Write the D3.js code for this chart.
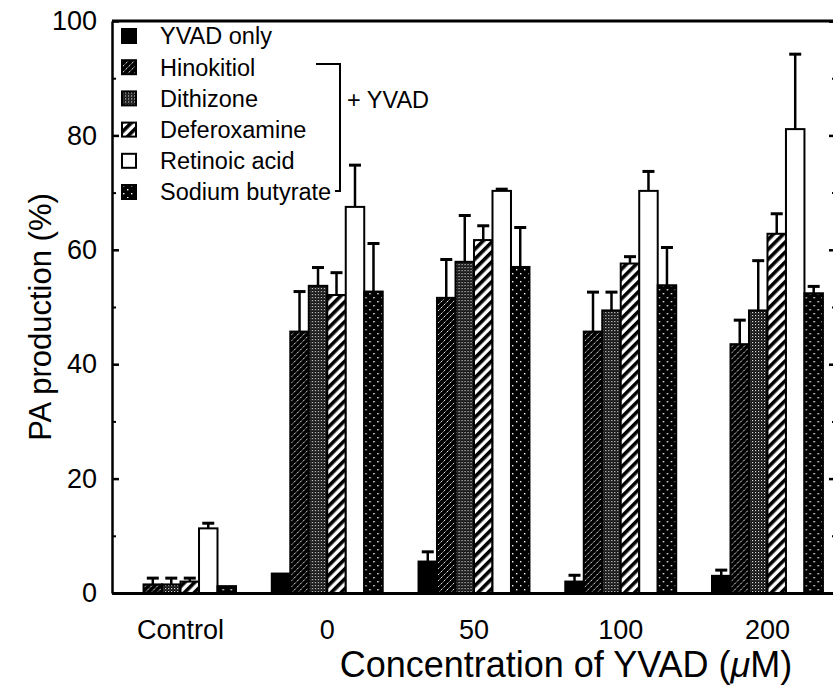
<!DOCTYPE html>
<html>
<head>
<meta charset="utf-8">
<script src="https://cdn.jsdelivr.net/npm/d3@7"></script>
<style>
  body { margin: 0; background: #fff; }
  text { font-family: "Liberation Sans", Arial, sans-serif; fill: #000; }
</style>
</head>
<body>
<svg width="833" height="686"></svg>
<script>
// groups on the x axis
const groups = ["Control", "0", "50", "100", "200"];
const seriesNames = ["YVAD only", "Hinokitiol", "Dithizone", "Deferoxamine", "Retinoic acid", "Sodium butyrate"];

// mean values (%) per group
const yvadOnly     = [0, 3.4, 5.5, 2.0, 3.0];
const hinokitiol   = [1.5, 45.7, 51.6, 45.7, 43.5];
const dithizone    = [1.5, 53.7, 57.9, 49.4, 49.4];
const deferoxamine = [2.0, 52.1, 61.7, 57.6, 62.8];
const retinoic     = [11.3, 67.5, 70.3, 70.3, 81.1];
const butyrate     = [1.2, 52.7, 57.0, 53.8, 52.4];

// upper error bars
const yvadOnlyErr     = [0, 0, 1.7, 1.1, 1.0];
const hinokitiolErr   = [1.1, 7.0, 6.7, 6.9, 4.2];
const dithizoneErr    = [1.1, 3.2, 8.1, 3.2, 8.7];
const deferoxamineErr = [0.6, 3.9, 2.5, 1.2, 3.5];
const retinoicErr     = [0.9, 7.3, 0.3, 3.4, 13.1];
const butyrateErr     = [0, 8.4, 6.9, 6.6, 1.2];

const yTicks = [0, 20, 40, 60, 80, 100];
const yMinor = [10, 30, 50, 70, 90];

const means = [yvadOnly, hinokitiol, dithizone, deferoxamine, retinoic, butyrate];
const errs = [yvadOnlyErr, hinokitiolErr, dithizoneErr, deferoxamineErr, retinoicErr, butyrateErr];
const fills = ["#000", "url(#hino)", "url(#dith)", "url(#defe)", "#fff", "url(#buty)"];

const svg = d3.select("svg");
const plotLeft = 112, plotRight = 836, plotTop = 21, plotBottom = 593;

const x = d3.scaleBand().domain(groups).range([plotLeft, plotRight]).paddingInner(0.244).paddingOuter(0.089);
const xs = d3.scaleBand().domain(d3.range(seriesNames.length)).range([0, x.bandwidth()]);
const y = d3.scaleLinear().domain([0, 100]).range([plotBottom, plotTop]);

// fill patterns
const defs = svg.append("defs");

const hino = defs.append("pattern").attr("id", "hino").attr("patternUnits", "userSpaceOnUse")
  .attr("width", 6).attr("height", 6);
hino.append("rect").attr("width", 6).attr("height", 6).attr("fill", "#000");
hino.append("path").attr("d", "M0.5,5.5 L2.5,3.5 M3.5,2.5 L5.5,0.5").attr("stroke", "#fff").attr("stroke-width", 0.9);

const dith = defs.append("pattern").attr("id", "dith").attr("patternUnits", "userSpaceOnUse")
  .attr("width", 3).attr("height", 3);
dith.append("rect").attr("width", 3).attr("height", 3).attr("fill", "#0a0a0a");
dith.append("rect").attr("width", 1.2).attr("height", 1.2).attr("fill", "#ddd");
dith.append("rect").attr("x", 1.5).attr("y", 1.5).attr("width", 1).attr("height", 1).attr("fill", "#777");

const defe = defs.append("pattern").attr("id", "defe").attr("patternUnits", "userSpaceOnUse")
  .attr("width", 7).attr("height", 7).attr("patternTransform", "rotate(45)");
defe.append("rect").attr("width", 7).attr("height", 7).attr("fill", "#fff");
defe.append("rect").attr("width", 3.6).attr("height", 7).attr("fill", "#000");

const buty = defs.append("pattern").attr("id", "buty").attr("patternUnits", "userSpaceOnUse")
  .attr("width", 8).attr("height", 8);
buty.append("rect").attr("width", 8).attr("height", 8).attr("fill", "#000");
buty.append("rect").attr("x", 1).attr("y", 1).attr("width", 1.4).attr("height", 1.4).attr("fill", "#fff");
buty.append("rect").attr("x", 5).attr("y", 5).attr("width", 1.4).attr("height", 1.4).attr("fill", "#fff");

// bars
const cells = [];
means.forEach((vals, s) => vals.forEach((v, g) => cells.push({ s: s, g: groups[g], v: v, e: errs[s][g] })));

const bar = svg.selectAll(".bar")
  .data(cells.filter(d => d.v > 0))
  .enter().append("g")
  .attr("class", "bar")
  .attr("transform", d => `translate(${x(d.g) + xs(d.s)},0)`);

bar.append("line")
  .filter(d => d.e > 0)
  .attr("x1", xs.bandwidth() / 2).attr("x2", xs.bandwidth() / 2)
  .attr("y1", d => y(d.v)).attr("y2", d => y(d.v + d.e))
  .attr("stroke", "#000").attr("stroke-width", 2.5);

bar.append("line")
  .filter(d => d.e > 0)
  .attr("x1", xs.bandwidth() / 2 - 6).attr("x2", xs.bandwidth() / 2 + 6)
  .attr("y1", d => y(d.v + d.e)).attr("y2", d => y(d.v + d.e))
  .attr("stroke", "#000").attr("stroke-width", 3);

bar.append("rect")
  .attr("x", 0)
  .attr("y", d => y(d.v))
  .attr("width", xs.bandwidth())
  .attr("height", d => y(0) - y(d.v))
  .attr("fill", d => fills[d.s])
  .attr("stroke", "#000").attr("stroke-width", 2);

// axes
svg.append("g")
  .attr("transform", `translate(${plotLeft},0)`)
  .call(d3.axisLeft(y).tickValues(yTicks).tickSizeInner(-7).tickSizeOuter(0).tickPadding(15))
  .call(g => g.select(".domain").attr("stroke-width", 2.5))
  .call(g => g.selectAll(".tick line").attr("stroke-width", 2.5))
  .call(g => g.selectAll("text").style("font-size", "27px"));

svg.append("g")
  .attr("transform", `translate(${plotLeft},0)`)
  .call(d3.axisLeft(y).tickValues(yMinor).tickSizeInner(-4).tickSizeOuter(0).tickFormat(""))
  .call(g => g.select(".domain").remove())
  .call(g => g.selectAll(".tick line").attr("stroke-width", 2));

svg.append("g")
  .attr("transform", `translate(${plotRight},0)`)
  .call(d3.axisLeft(y).tickValues(yTicks).tickSize(7).tickFormat(""))
  .call(g => g.select(".domain").attr("stroke-width", 2.5))
  .call(g => g.selectAll(".tick line").attr("stroke-width", 2.5));

svg.append("g")
  .attr("transform", `translate(${plotRight},0)`)
  .call(d3.axisLeft(y).tickValues(yMinor).tickSize(4).tickFormat(""))
  .call(g => g.select(".domain").remove())
  .call(g => g.selectAll(".tick line").attr("stroke-width", 2));

svg.append("g")
  .attr("transform", `translate(0,${plotBottom})`)
  .call(d3.axisBottom(x).tickSize(0).tickPadding(27))
  .call(g => g.select(".domain").attr("stroke-width", 3))
  .call(g => g.selectAll("text").style("font-size", "27px"));

// top frame
svg.append("line")
  .attr("x1", plotLeft).attr("x2", plotRight)
  .attr("y1", y(100)).attr("y2", y(100))
  .attr("stroke", "#000").attr("stroke-width", 3);

// axis titles
svg.append("text")
  .attr("transform", `translate(40,${(plotTop + plotBottom) / 2 + 10}) rotate(-90)`)
  .attr("text-anchor", "middle").attr("dy", "0.35em")
  .style("font-size", "31px")
  .text("PA production (%)");

svg.append("text")
  .attr("x", 566).attr("y", 677)
  .attr("text-anchor", "middle")
  .style("font-size", "36px")
  .html("Concentration of YVAD (<tspan font-style='italic'>μ</tspan>M)");

// legend
const legend = svg.selectAll(".legend")
  .data(seriesNames)
  .enter().append("g")
  .attr("class", "legend")
  .attr("transform", (d, i) => `translate(122,${36 + i * 31.2})`);

legend.append("rect")
  .attr("x", 0).attr("y", -7)
  .attr("width", 14).attr("height", 14)
  .attr("fill", (d, i) => fills[i])
  .attr("stroke", "#000").attr("stroke-width", 2);

legend.append("text")
  .attr("x", 38).attr("dy", "0.36em")
  .style("font-size", "23.5px")
  .text(d => d);

// "+ YVAD" bracket
svg.append("path")
  .attr("d", "M316,64 H340 V191 H335")
  .attr("fill", "none").attr("stroke", "#000").attr("stroke-width", 2);

svg.append("text")
  .attr("x", 347).attr("y", 100).attr("dy", "0.36em")
  .style("font-size", "23.5px")
  .text("+ YVAD");
</script>
</body>
</html>
